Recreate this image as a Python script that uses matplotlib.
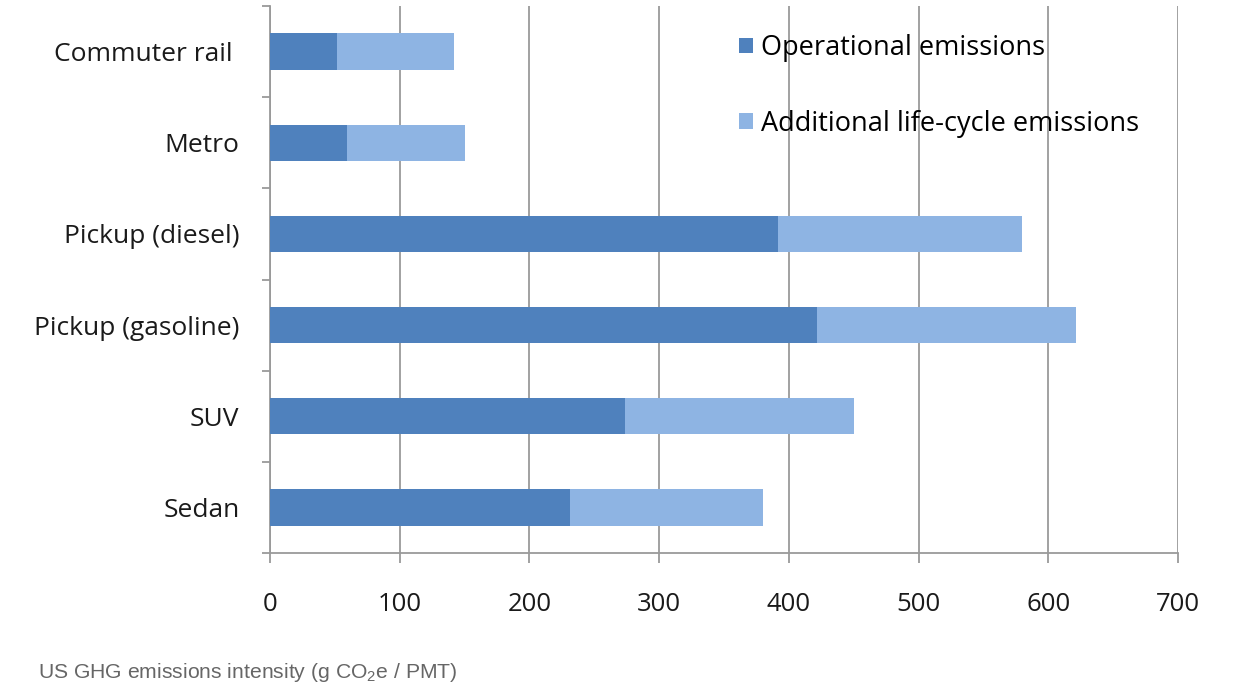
import matplotlib.pyplot as plt
import numpy as np

# data (g CO2e per passenger mile travelled)
categories = ["Commuter rail ", "Metro", "Pickup (diesel)", "Pickup (gasoline)", "SUV", "Sedan"]
operational = [52, 59, 392, 422, 274, 231]
additional = [90, 91, 188, 199, 176, 149]
xticks = [0, 100, 200, 300, 400, 500, 600, 700]

dark_blue = "#4F81BD"
light_blue = "#8EB4E3"
grid_grey = "#9A9A9A"

plt.rcParams['font.family'] = ['Open Sans', 'DejaVu Sans']

fig = plt.figure(figsize=(12.41, 6.87), dpi=100)
ax = fig.add_axes([270 / 1241, 1 - 553 / 687, 908 / 1241, 547 / 687])

y = np.arange(len(categories))
ax.barh(y, operational, height=0.4, color=dark_blue, label="Operational emissions", zorder=3)
ax.barh(y, additional, left=operational, height=0.4, color=light_blue,
        label="Additional life-cycle emissions", zorder=3)

# axes setup
ax.set_xlim(0, 700)
ax.set_ylim(len(categories) - 0.5, -0.5)
ax.set_xticks(xticks)
ax.set_xticklabels([str(t) for t in xticks])
ax.set_yticks(y)
ax.set_yticklabels(categories)
ax.set_yticks(np.arange(-0.5, len(categories)), minor=True)

ax.grid(axis='x', color=grid_grey, linewidth=1.3, zorder=0)
for s in ['top', 'right']:
    ax.spines[s].set_visible(False)
for s in ['left', 'bottom']:
    ax.spines[s].set_color(grid_grey)
    ax.spines[s].set_linewidth(1.3)

ax.tick_params(axis='y', which='major', length=0, pad=22, labelsize=19, labelcolor="#1a1a1a")
ax.tick_params(axis='y', which='minor', length=6, width=1.3, color=grid_grey, direction='out')
ax.tick_params(axis='x', length=7, width=1.3, color=grid_grey, direction='out', pad=21,
               labelsize=18.5, labelcolor="#1a1a1a")

ax.legend(loc='upper left', bbox_to_anchor=(0.505, 0.968), frameon=False, fontsize=19.5,
          handlelength=0.5, handleheight=0.5, handletextpad=0.3, labelspacing=1.75,
          borderaxespad=0)

fig.text(38 / 1241, 1 - 672 / 687, r"US GHG emissions intensity (g $\mathregular{CO_2}$e / PMT)",
         fontsize=15.2, color="#666666", family=['Liberation Sans'], va='center')

fig.savefig("out.png", dpi=100)
